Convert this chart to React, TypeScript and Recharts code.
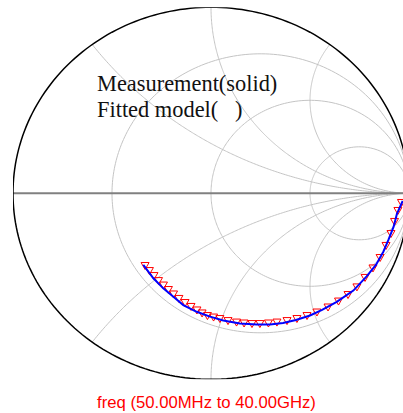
import React from 'react';
import { ScatterChart, Scatter, XAxis, YAxis } from 'recharts';

// Smith chart grid values (normalized impedance)
const resistanceCircles = [1 / 3, 1, 3];
const reactanceArcs = [0.5, 1, 2, -0.5, -1, -2];

// Measurement (solid blue line): reflection coefficient, real / imaginary parts
const measRe = [-0.342, -0.291, -0.241, -0.19, -0.14, -0.072, -0.005, 0.062, 0.146, 0.231, 0.298, 0.364, 0.429, 0.5, 0.561, 0.635, 0.719, 0.786, 0.833, 0.871, 0.896, 0.922, 0.939, 0.968];
const measIm = [-0.385, -0.457, -0.511, -0.556, -0.601, -0.637, -0.663, -0.684, -0.7, -0.706, -0.705, -0.697, -0.681, -0.657, -0.627, -0.584, -0.523, -0.447, -0.385, -0.313, -0.251, -0.181, -0.111, -0.041];

// Fitted model (red triangle markers)
const fitRe = [-0.333, -0.311, -0.288, -0.265, -0.24, -0.215, -0.189, -0.162, -0.131, -0.101, -0.071, -0.045, -0.018, 0.013, 0.045, 0.086, 0.129, 0.167, 0.207, 0.247, 0.29, 0.333, 0.384, 0.434, 0.485, 0.535, 0.591, 0.644, 0.692, 0.737, 0.778, 0.818, 0.854, 0.884, 0.909, 0.927, 0.944, 0.962];
const fitIm = [-0.391, -0.418, -0.445, -0.472, -0.496, -0.52, -0.544, -0.568, -0.59, -0.611, -0.63, -0.646, -0.66, -0.668, -0.676, -0.687, -0.695, -0.7, -0.703, -0.703, -0.7, -0.695, -0.687, -0.676, -0.66, -0.641, -0.614, -0.582, -0.547, -0.506, -0.455, -0.404, -0.348, -0.283, -0.219, -0.154, -0.095, -0.052];

const legendLine1 = 'Measurement(solid)';
const legendLine2 = 'Fitted model(\u00a0\u00a0\u00a0)';
const freqLabel = 'freq (50.00MHz to 40.00GHz)';

const gamma = (r: number, x: number) => {
  const den = (r + 1) * (r + 1) + x * x;
  return { x: (r * r + x * x - 1) / den, y: (2 * x) / den };
};

const rCircle = (r: number) => {
  const pts = [] as { x: number; y: number }[];
  const n = 240;
  for (let i = 1; i < n; i++) {
    const t = -Math.PI / 2 + (Math.PI * i) / n;
    pts.push(gamma(r, Math.tan(t)));
  }
  pts.unshift({ x: 1, y: 0 });
  pts.push({ x: 1, y: 0 });
  return pts;
};

const xArc = (xv: number) => {
  const pts = [] as { x: number; y: number }[];
  const n = 200;
  for (let i = 0; i < n; i++) {
    const t = (Math.PI / 2) * (i / n);
    pts.push(gamma(Math.tan(t), xv));
  }
  pts.push({ x: 1, y: 0 });
  return pts;
};

const measData = measRe.map((v, i) => ({ x: v, y: measIm[i] }));
const fitData = fitRe.map((v, i) => ({ x: v, y: fitIm[i] }));

const NoShape = () => <g />;

const Tri = (props: any) => {
  const { cx, cy } = props;
  if (cx == null || cy == null) return <g />;
  const w = 4;
  const h = 3.5;
  return (
    <path
      d={`M${cx - w},${cy - h}L${cx + w},${cy - h}L${cx},${cy + h}Z`}
      stroke="#ff0000"
      strokeWidth={1}
      fill="none"
    />
  );
};

export default function App() {
  return (
    <div style={{ position: 'absolute', left: 0, top: 0, width: 403, height: 413, overflow: 'hidden', background: '#fff' }}>
      <ScatterChart width={420} height={413} margin={{ top: 7.3, right: 11, bottom: 33.7, left: 13 }}>
        <XAxis type="number" dataKey="x" domain={[-1, 1]} hide allowDataOverflow />
        <YAxis type="number" dataKey="y" domain={[-1, 1]} hide allowDataOverflow />
        {resistanceCircles.map((r) => (
          <Scatter key={'r' + r} data={rCircle(r)} line={{ stroke: '#c4c4c4', strokeWidth: 1 }} shape={NoShape} isAnimationActive={false} />
        ))}
        {reactanceArcs.map((xv) => (
          <Scatter key={'x' + xv} data={xArc(xv)} line={{ stroke: '#c4c4c4', strokeWidth: 1 }} shape={NoShape} isAnimationActive={false} />
        ))}
        <Scatter data={[{ x: -1, y: 0 }, { x: 1, y: 0 }]} line={{ stroke: '#808080', strokeWidth: 2 }} shape={NoShape} isAnimationActive={false} />
        <Scatter data={rCircle(0)} line={{ stroke: '#000', strokeWidth: 1.5 }} shape={NoShape} isAnimationActive={false} />
        <Scatter data={fitData} shape={Tri} isAnimationActive={false} />
        <Scatter data={measData} line={{ stroke: '#0000ff', strokeWidth: 2 }} shape={NoShape} isAnimationActive={false} />
      </ScatterChart>
      <svg width={403} height={413} style={{ position: 'absolute', left: 0, top: 0, pointerEvents: 'none' }}>
        <text x={97} y={91} fontFamily="'Liberation Serif', 'Times New Roman', serif" fontSize={22.4} fill="#111">{legendLine1}</text>
        <text x={97} y={117} fontFamily="'Liberation Serif', 'Times New Roman', serif" fontSize={22.4} fill="#111">{legendLine2}</text>
        <text x={97} y={408} fontFamily="'Liberation Sans', Arial, sans-serif" fontSize={16.7} fill="#ff0000">{freqLabel}</text>
      </svg>
    </div>
  );
}
